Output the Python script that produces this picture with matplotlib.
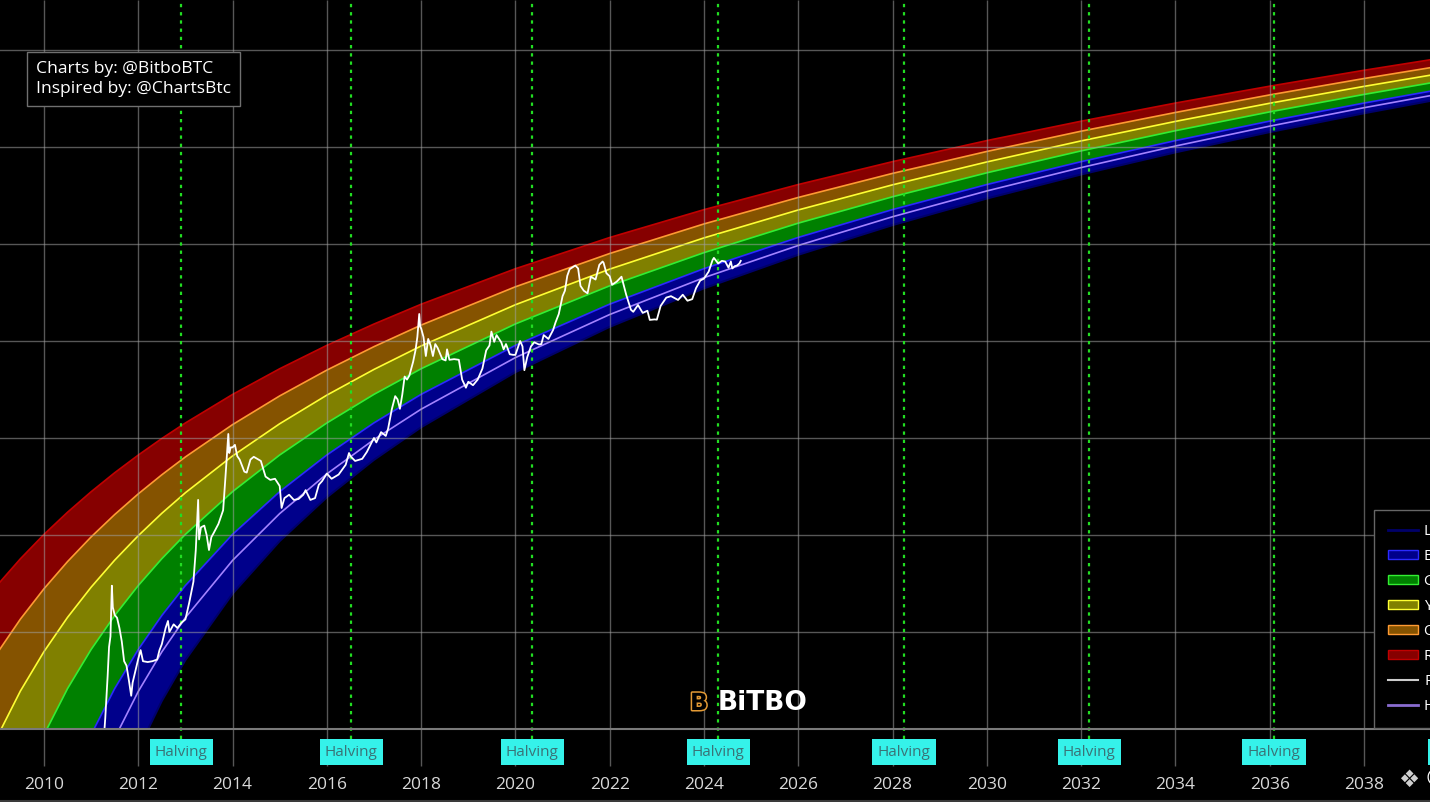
import numpy as np
import matplotlib.pyplot as plt
from matplotlib.patches import Patch
from matplotlib.lines import Line2D
import matplotlib.patheffects as pe

plt.rcParams['font.family'] = ['Open Sans', 'DejaVu Sans']

# band edges in log10(USD) at these dates
band_years = [2009.0, 2009.5, 2010.0, 2010.5, 2011.0, 2011.5, 2012.0, 2012.5, 2013, 2014, 2015,
              2016, 2017, 2018, 2020, 2022, 2024, 2026, 2028, 2030, 2032, 2034, 2036, 2038, 2040]
red_top = [1.478, 1.755, 2.006, 2.235, 2.446, 2.642, 2.824, 2.995, 3.155, 3.449, 3.714, 3.955, 4.175,
           4.379, 4.745, 5.067, 5.354, 5.613, 5.849, 6.066, 6.266, 6.453, 6.627, 6.791, 6.945]
orange_top = [0.777, 1.133, 1.446, 1.726, 1.980, 2.211, 2.424, 2.621, 2.805, 3.138, 3.434, 3.700, 3.942,
              4.164, 4.559, 4.902, 5.207, 5.480, 5.728, 5.954, 6.163, 6.356, 6.537, 6.706, 6.865]
yellow_top = [-0.088, 0.392, 0.798, 1.151, 1.462, 1.741, 1.993, 2.224, 2.436, 2.815, 3.147, 3.442, 3.707,
              3.949, 4.374, 4.741, 5.063, 5.351, 5.610, 5.846, 6.063, 6.264, 6.451, 6.625, 6.789]
green_top = [-1.380, -0.638, -0.059, 0.417, 0.820, 1.170, 1.479, 1.756, 2.007, 2.447, 2.825, 3.155, 3.450,
             3.714, 4.176, 4.569, 4.911, 5.215, 5.487, 5.734, 5.960, 6.168, 6.362, 6.542, 6.710]
blue_top = [-4.117, -2.410, -1.379, -0.637, -0.058, 0.417, 0.820, 1.170, 1.479, 2.007, 2.447, 2.825, 3.156,
            3.450, 3.955, 4.380, 4.746, 5.068, 5.355, 5.613, 5.849, 6.066, 6.267, 6.453, 6.627]
hodl_line = [-8.0, -4.285, -2.497, -1.437, -0.682, -0.094, 0.387, 0.795, 1.148, 1.738, 2.221, 2.630, 2.984,
             3.297, 3.829, 4.273, 4.653, 4.985, 5.281, 5.547, 5.788, 6.010, 6.215, 6.405, 6.582]
lower_band = [-8.0, -7.0, -4.900, -2.793, -1.633, -0.828, -0.210, 0.291, 0.712, 1.395, 1.938, 2.389, 2.775,
              3.111, 3.679, 4.146, 4.543, 4.889, 5.195, 5.469, 5.717, 5.945, 6.154, 6.348, 6.529]

# bitcoin price (USD)
price_dates = [2010.54, 2010.6, 2010.67, 2010.75, 2010.83, 2010.92, 2011.0, 2011.08, 2011.12, 2011.2,
               2011.27, 2011.3, 2011.35, 2011.38, 2011.41, 2011.44, 2011.46, 2011.5, 2011.55, 2011.6,
               2011.65, 2011.7, 2011.75, 2011.8, 2011.85, 2011.88, 2011.95, 2012.0, 2012.05, 2012.1,
               2012.2, 2012.3, 2012.4, 2012.45, 2012.5, 2012.58, 2012.63, 2012.66, 2012.75, 2012.83,
               2012.92, 2013.0, 2013.08, 2013.17, 2013.22, 2013.27, 2013.29, 2013.33, 2013.4, 2013.45,
               2013.5, 2013.55, 2013.6, 2013.7, 2013.8, 2013.85, 2013.91, 2013.93, 2013.96, 2014.0,
               2014.05, 2014.1, 2014.15, 2014.25, 2014.3, 2014.38, 2014.45, 2014.55, 2014.6, 2014.7,
               2014.8, 2014.9, 2015.0, 2015.04, 2015.1, 2015.2, 2015.3, 2015.4, 2015.5, 2015.55,
               2015.65, 2015.75, 2015.83, 2015.9, 2016.0, 2016.1, 2016.25, 2016.4, 2016.47, 2016.5,
               2016.6, 2016.75, 2016.85, 2016.95, 2017.0, 2017.05, 2017.15, 2017.25, 2017.3, 2017.38,
               2017.45, 2017.5, 2017.55, 2017.6, 2017.65, 2017.7, 2017.75, 2017.83, 2017.88, 2017.92,
               2017.96, 2017.98, 2018.0, 2018.05, 2018.1, 2018.15, 2018.2, 2018.25, 2018.3, 2018.35,
               2018.45, 2018.52, 2018.55, 2018.6, 2018.7, 2018.8, 2018.87, 2018.95, 2019.0, 2019.1,
               2019.2, 2019.3, 2019.38, 2019.45, 2019.49, 2019.55, 2019.6, 2019.7, 2019.75, 2019.8,
               2019.88, 2019.95, 2020.0, 2020.1, 2020.15, 2020.19, 2020.25, 2020.33, 2020.4, 2020.5,
               2020.55, 2020.6, 2020.7, 2020.8, 2020.85, 2020.92, 2021.0, 2021.05, 2021.1, 2021.15,
               2021.2, 2021.27, 2021.33, 2021.38, 2021.45, 2021.53, 2021.6, 2021.7, 2021.78, 2021.85,
               2021.87, 2021.93, 2022.0, 2022.05, 2022.15, 2022.25, 2022.35, 2022.45, 2022.5, 2022.6,
               2022.7, 2022.8, 2022.85, 2022.95, 2023.0, 2023.08, 2023.2, 2023.3, 2023.45, 2023.55,
               2023.65, 2023.75, 2023.83, 2023.92, 2024.0, 2024.1, 2024.18, 2024.21, 2024.3, 2024.38,
               2024.45, 2024.52, 2024.57, 2024.6, 2024.65, 2024.7, 2024.75, 2024.78]
price_usd = [0.05, 0.07, 0.06, 0.1, 0.25, 0.23, 0.3, 0.9, 0.95, 0.85,
             0.8, 1.3, 3.5, 7, 9, 30, 18, 15, 14, 11,
             8, 5, 4.5, 3.2, 2.2, 3.0, 4.2, 5.3, 6.5, 5,
             4.9, 5.0, 5.2, 6.5, 7.5, 11, 13, 10, 12, 11,
             12.5, 13.5, 20, 33, 70, 230, 90, 120, 125, 100,
             70, 95, 105, 130, 180, 400, 1100, 700, 800, 800,
             850, 650, 600, 450, 440, 600, 640, 600, 580, 400,
             370, 380, 320, 190, 240, 260, 230, 235, 260, 290,
             230, 240, 330, 360, 430, 380, 420, 530, 700, 650,
             580, 610, 720, 900, 1000, 900, 1150, 1050, 1250, 2000,
             2700, 2500, 2000, 2800, 4300, 4000, 4400, 6100, 8000, 11000,
             19000, 14000, 13500, 11000, 7000, 10500, 9000, 7000, 9300, 8500,
             6500, 6300, 8200, 6400, 6500, 6400, 4000, 3300, 3800, 3500,
             4000, 5200, 8000, 9000, 12500, 9800, 11500, 9700, 8200, 9300,
             7300, 7200, 7200, 10000, 8800, 5000, 6800, 8800, 9700, 9200,
             9300, 11500, 10500, 13000, 15500, 19000, 29000, 33000, 47000, 55000,
             57000, 60000, 56000, 37000, 33000, 31000, 46000, 43000, 61000, 66000,
             64000, 50000, 46500, 38000, 41000, 46000, 30000, 21000, 20000, 23500,
             19500, 20500, 16500, 16700, 16600, 23000, 28000, 29000, 26500, 30000,
             26000, 27000, 35000, 42000, 44000, 52000, 68000, 72000, 63000, 67000,
             66000, 57000, 66000, 56000, 59000, 60000, 63000, 67000]

halving_dates = [2012.91, 2016.52, 2020.36, 2024.30, 2028.24, 2032.17, 2036.09, 2040.03]
year_ticks = list(range(2010, 2039, 2))

fig = plt.figure(figsize=(14.3, 8.02), dpi=100, facecolor='black')
ax = fig.add_axes([0, 73 / 802, 1, 729 / 802])
ax.set_facecolor('black')
ax.set_yscale('log')
ax.set_xlim(2009.067, 2039.40)
ax.set_ylim(1, 10 ** (729 / 97))

bx = np.array(band_years)
edges = [lower_band, blue_top, green_top, yellow_top, orange_top, red_top]
fills = ['#00008b', '#008000', '#808000', '#855300', '#860000']
for lo, hi, c in zip(edges[:-1], edges[1:], fills):
    ax.fill_between(bx, 10.0 ** np.array(lo), 10.0 ** np.array(hi), color=c, lw=0, zorder=1)

# band edge lines
line_styles = [(lower_band, '#00006a', 1.5), (hodl_line, '#a383ff', 1.2), (blue_top, '#2a2aff', 1.2),
               (green_top, '#33ee33', 1.2), (yellow_top, '#ffff33', 1.2), (orange_top, '#ff9a33', 1.2),
               (red_top, '#c00000', 1.2)]
for vals, c, w in line_styles:
    ax.plot(bx, 10.0 ** np.array(vals), color=c, lw=w, zorder=2)

# grid
ax.hlines(10.0 ** np.arange(1, 8), 2009, 2040, color='#a0a0a0', alpha=0.55, lw=1, zorder=3)
ax.vlines(year_ticks, -37 / 729, 1, transform=ax.get_xaxis_transform(), color='#a0a0a0',
          alpha=0.55, lw=1, zorder=3, clip_on=False)
ax.axhline(1, color='#7a7a7a', lw=1.5, zorder=5, clip_on=False)

# halvings
ax.vlines(halving_dates, -10 / 729, 1, transform=ax.get_xaxis_transform(), color='#22dd22',
          linestyles=(0, (1.5, 2.2)), lw=1.6, zorder=3, clip_on=False)
for d in halving_dates:
    ax.text(d, -23 / 729, 'Halving', transform=ax.get_xaxis_transform(), ha='center', va='center',
            fontsize=11, color='#3a7377', zorder=6, clip_on=False,
            bbox=dict(boxstyle='square,pad=0.34', fc='#35f2ea', ec='none'))

# price
ax.plot(price_dates, price_usd, color='white', lw=1.3, zorder=4)

for s in ax.spines.values():
    s.set_visible(False)
ax.yaxis.set_major_locator(plt.NullLocator())
ax.yaxis.set_minor_locator(plt.NullLocator())
ax.set_xticks(year_ticks)
ax.set_xticklabels([str(y) for y in year_ticks])
ax.tick_params(axis='x', length=0, pad=34.5, labelcolor='#d8d8d8', labelsize=12.5)

# legend (cut off at the right edge like the original)
handles = [Line2D([], [], color='#00006a', lw=2),
           Patch(fc='#00008b', ec='#2a2aff', lw=1),
           Patch(fc='#008000', ec='#33ee33', lw=1),
           Patch(fc='#808000', ec='#ffff33', lw=1),
           Patch(fc='#855300', ec='#ff9a33', lw=1),
           Patch(fc='#860000', ec='#c00000', lw=1),
           Line2D([], [], color='#cccccc', lw=1.5),
           Line2D([], [], color='#8a6cd0', lw=2)]
labels = ['Lower Band', 'Blue Band', 'Green Band', 'Yellow Band', 'Orange Band', 'Red Band',
          'Price', 'HODL Line']
leg = ax.legend(handles, labels, loc='lower left', bbox_to_anchor=(1374 / 1430, 1 / 729),
                borderaxespad=0, fontsize=11, labelcolor='white', facecolor='black',
                edgecolor='#666666', fancybox=False, framealpha=1, handlelength=2.0,
                handleheight=0.55, labelspacing=0.66, borderpad=0.9, handletextpad=0.4)
leg.set_zorder(7)

# credits box
fig.text(36 / 1430, 1 - 79 / 802, 'Charts by: @BitboBTC\nInspired by: @ChartsBtc', color='white',
         fontsize=12.6, va='center', ha='left', linespacing=1.4,
         bbox=dict(boxstyle='square,pad=0.5', fc='black', ec='#707070', lw=1))

# logo
fig.text(763 / 1430, 1 - 703 / 802, 'BiTBO', color='white', fontsize=19, fontweight='bold',
         family='DejaVu Sans', ha='center', va='center')
fig.text(699 / 1430, 1 - 703 / 802, 'B', color='black', fontsize=17, fontweight='bold',
         family='DejaVu Sans', ha='center', va='center',
         path_effects=[pe.withStroke(linewidth=2.2, foreground='#e39a35')])

# footer icons
fig.text(1409 / 1430, 1 - 780 / 802, '\u2756', color='#cfcfcf', fontsize=17, family='DejaVu Sans',
         ha='center', va='center')
fig.text(1436 / 1430, 1 - 780 / 802, '\u00a9', color='white', fontsize=18, family='DejaVu Sans',
         ha='center', va='center')
fig.add_artist(Line2D([0, 1], [1.5 / 802, 1.5 / 802], color='#3a3a3a', lw=1.5))

fig.savefig('out.png', dpi=100, facecolor='black')
